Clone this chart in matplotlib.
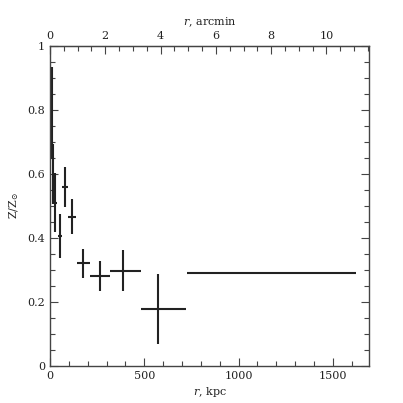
import matplotlib
matplotlib.use("Agg")
import matplotlib.pyplot as plt
from matplotlib.ticker import MultipleLocator, FixedLocator

# data: radius (kpc), bin extents, metallicity and errors
r_kpc = [8, 16, 29, 53, 80, 117, 176, 264, 389, 574, 1175]
r_err_lo = [4, 5, 6, 9, 15, 21, 35, 52, 71, 92, 450]
r_err_hi = [4, 5, 6, 9, 15, 21, 35, 54, 92, 147, 450]
z_val = [0.79, 0.60, 0.51, 0.406, 0.56, 0.467, 0.321, 0.282, 0.298, 0.179, 0.29]
z_err = [0.143, 0.093, 0.092, 0.068, 0.063, 0.055, 0.046, 0.047, 0.063, 0.11, 0.0]
arcmin_ticks = [0, 2, 4, 6, 8, 10]
y_ticks = [0, 0.2, 0.4, 0.6, 0.8, 1]
y_ticklabels = ['0', '0.2', '0.4', '0.6', '0.8', '1']

KPC_PER_ARCMIN = 146.6

plt.rcParams['font.family'] = ['DejaVu Serif']
plt.rcParams['mathtext.fontset'] = 'dejavuserif'

fig = plt.figure(figsize=(4.03, 4.03), dpi=100)
ax = fig.add_axes([50/403, 1-366/403, (369.3-50)/403, (366-46)/403])

ax.errorbar(r_kpc, z_val, xerr=[r_err_lo, r_err_hi], yerr=z_err,
            fmt='none', ecolor='#222222', elinewidth=1.5, capsize=0)

ax.set_xlim(0, 1693)
ax.set_ylim(0, 1)
ax.xaxis.set_major_locator(MultipleLocator(500))
ax.xaxis.set_minor_locator(MultipleLocator(100))
ax.yaxis.set_minor_locator(MultipleLocator(0.05))
ax.set_yticks(y_ticks)
ax.set_yticklabels(y_ticklabels)

ax.tick_params(which='both', direction='in', top=False, right=True,
               labelsize=8, color='#444444', labelcolor='#222222')
ax.tick_params(which='major', length=6, width=0.8)
ax.tick_params(which='minor', length=3.5, width=0.8)
for s in ax.spines.values():
    s.set_color('#444444')
    s.set_linewidth(1.0)

ax.set_xlabel(r'$r$, kpc', fontsize=8, color='#222222', labelpad=3)
ax.set_ylabel(r'Z/Z$_{\odot}$', fontsize=8, color='#222222')
ax.yaxis.set_label_coords(-0.09, 0.5)

sec = ax.secondary_xaxis('top', functions=(lambda x: x / KPC_PER_ARCMIN,
                                           lambda a: a * KPC_PER_ARCMIN))
sec.xaxis.set_major_locator(FixedLocator(arcmin_ticks))
sec.xaxis.set_minor_locator(FixedLocator([i * 0.5 for i in range(24)]))
sec.tick_params(which='both', direction='in', labelsize=8,
                color='#444444', labelcolor='#222222')
sec.tick_params(which='major', length=6, width=0.8)
sec.tick_params(which='minor', length=3.5, width=0.8)
sec.spines['top'].set_color('#444444')
sec.set_xlabel(r'$r$, arcmin', fontsize=8, color='#222222', labelpad=4)

fig.savefig('out.png', dpi=100)
